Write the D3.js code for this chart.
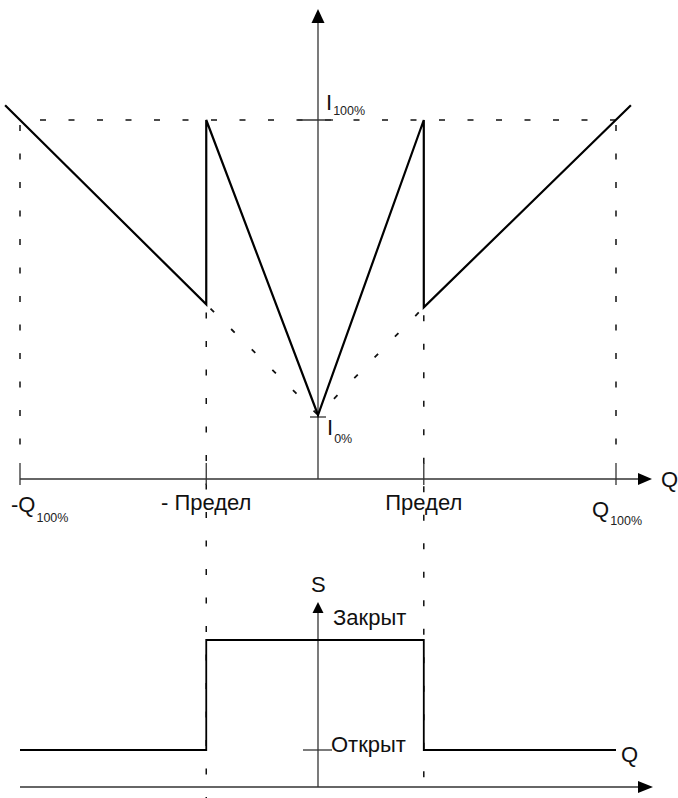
<!DOCTYPE html>
<html>
  <head>
    <meta charset="UTF-8">
    <style>
      body {
        margin: 0;
        background: #fff;
        font-family: 'Liberation Sans', Arial, sans-serif;
      }

      .label {
        font-size: 22px;
        fill: #111;
      }

      .sub {
        font-size: 12.5px;
        fill: #222;
      }
    </style>
    <script src="https://d3js.org/d3.v7.min.js"></script>
  </head>

  <body>
    <svg id="chart"></svg>

    <script type="text/javascript">
      // flow Q in % of Q100, current I in % of I100
      let limitLeft = -37.5
      let limitRight = 35.5

      let qTicks = [-100, limitLeft, limitRight, 100]
      let qTickLabels = ['-Q', '- Предел', 'Предел', 'Q']
      let qTickSubs = ['100%', '', '', '100%']

      let currentCurve = [
        {q: -105, i: 105},
        {q: limitLeft, i: 37.5},
        {q: limitLeft, i: 100},
        {q: 0, i: 0},
        {q: limitRight, i: 100},
        {q: limitRight, i: 36.5},
        {q: 105, i: 105},
      ]

      let dottedCurve = [
        {q: limitLeft, i: 37.5},
        {q: 0, i: 0},
        {q: limitRight, i: 36.5},
      ]

      // valve state: 0 = open, 1 = closed
      let valveState = [
        {q: -100, s: 0},
        {q: limitLeft, s: 0},
        {q: limitLeft, s: 1},
        {q: limitRight, s: 1},
        {q: limitRight, s: 0},
        {q: 100, s: 0},
      ]
      let stateLabels = ['Открыт', 'Закрыт']

      let width = 678
      let height = 798
      let svg = d3.select('#chart')
        .attr('width', width)
        .attr('height', height)

      let xScale = d3.scaleLinear().domain([-100, 100]).range([20, 616])
      let yI = d3.scaleLinear().domain([0, 100]).range([415, 120])
      let yS = d3.scaleLinear().domain([0, 1]).range([750, 640])

      let x0 = xScale(0)
      let axisTopY = 479
      let axisBottomY = 787
      let dash = '6,22.5'
      let axisColor = '#333'

      function line(g, x1, y1, x2, y2, opts) {
        opts = opts || {}
        return g.append('line')
          .attr('x1', x1).attr('y1', y1)
          .attr('x2', x2).attr('y2', y2)
          .attr('stroke', opts.color || axisColor)
          .attr('stroke-width', opts.w || 1.3)
          .attr('stroke-dasharray', opts.dash || null)
          .attr('stroke-dashoffset', opts.offset || 0)
      }

      function arrow(g, pts) {
        g.append('path')
          .attr('d', 'M' + pts.map(p => p.join(',')).join('L') + 'Z')
          .attr('fill', '#000')
      }

      function subLabel(g, x, y, main, sub, subDy, anchor) {
        let t = g.append('text')
          .attr('class', 'label')
          .attr('x', x)
          .attr('y', y)
          .attr('text-anchor', anchor || 'start')
          .text(main)
        if (sub) {
          t.append('tspan')
            .attr('class', 'sub')
            .attr('dy', subDy)
            .attr('dx', 1)
            .text(sub)
        }
      }

      // ---- dashed guides
      let guides = svg.append('g')
      line(guides, xScale(-100), yI(100), xScale(100), yI(100), {dash: dash, offset: -20, w: 1.5, color: '#111'})
      line(guides, xScale(-100), yI(100), xScale(-100), 463, {dash: dash, offset: -5, w: 1.5, color: '#111'})
      line(guides, xScale(100), yI(100), xScale(100), 463, {dash: dash, offset: -5, w: 1.5, color: '#111'})
      line(guides, xScale(limitLeft), yI(37.5), xScale(limitLeft), height, {dash: dash, offset: -8, w: 1.5, color: '#111'})
      line(guides, xScale(limitRight), yI(36.5), xScale(limitRight), height, {dash: dash, offset: -8, w: 1.5, color: '#111'})

      // ---- top chart axes
      let axes = svg.append('g')
      line(axes, xScale(-100), axisTopY, 640, axisTopY)
      arrow(axes, [[652, axisTopY], [638, axisTopY - 6], [638, axisTopY + 6]])
      line(axes, x0, axisTopY, x0, 20)
      arrow(axes, [[x0, 9], [x0 - 6.5, 23], [x0 + 6.5, 23]])

      qTicks.forEach(q => {
        line(axes, xScale(q), axisTopY - 16, xScale(q), axisTopY + 6)
      })
      line(axes, x0 - 20, yI(100), x0 + 15, yI(100))
      line(axes, x0 - 8, yI(0) + 2, x0 + 8, yI(0) + 2)

      // ---- current curve
      let lineGen = d3.line().x(d => xScale(d.q)).y(d => yI(d.i))

      svg.append('path')
        .datum(dottedCurve)
        .attr('d', lineGen)
        .attr('fill', 'none')
        .attr('stroke', '#111')
        .attr('stroke-width', 1.8)
        .attr('stroke-dasharray', '5,24')
        .attr('stroke-dashoffset', -6)

      svg.append('path')
        .datum(currentCurve)
        .attr('d', lineGen)
        .attr('fill', 'none')
        .attr('stroke', '#000')
        .attr('stroke-width', 2.2)
        .attr('stroke-linejoin', 'miter')

      // ---- top chart labels
      let labels = svg.append('g')
      subLabel(labels, 326, 110, 'I', '100%', 5)
      subLabel(labels, 327, 435, 'I', '0%', 8)
      subLabel(labels, 661, 487, 'Q')

      qTicks.forEach((q, k) => {
        let x = xScale(q)
        if (k == 0) subLabel(labels, 11, 512, qTickLabels[k], qTickSubs[k], 10)
        else if (k == 3) subLabel(labels, 592, 517, qTickLabels[k], qTickSubs[k], 8)
        else subLabel(labels, x, 510, qTickLabels[k], '', 0, 'middle')
      })

      // ---- bottom chart: valve state
      let bottom = svg.append('g')
      line(bottom, xScale(-100), axisBottomY, 640, axisBottomY)
      arrow(bottom, [[653, axisBottomY], [638, axisBottomY - 6], [638, axisBottomY + 6]])
      line(bottom, x0, axisBottomY, x0, 610)
      arrow(bottom, [[x0, 602], [x0 - 5.5, 613], [x0 + 5.5, 613]])
      line(bottom, x0 - 15, yS(0), x0 + 14, yS(0))

      let stateLine = d3.line().x(d => xScale(d.q)).y(d => yS(d.s))
      bottom.append('path')
        .datum(valveState)
        .attr('d', stateLine)
        .attr('fill', 'none')
        .attr('stroke', '#000')
        .attr('stroke-width', 1.8)

      subLabel(bottom, 311, 592, 'S')
      subLabel(bottom, 333, 625, stateLabels[1])
      subLabel(bottom, 331, 752, stateLabels[0])
      subLabel(bottom, 621, 762, 'Q')
    </script>
  </body>
</html>
